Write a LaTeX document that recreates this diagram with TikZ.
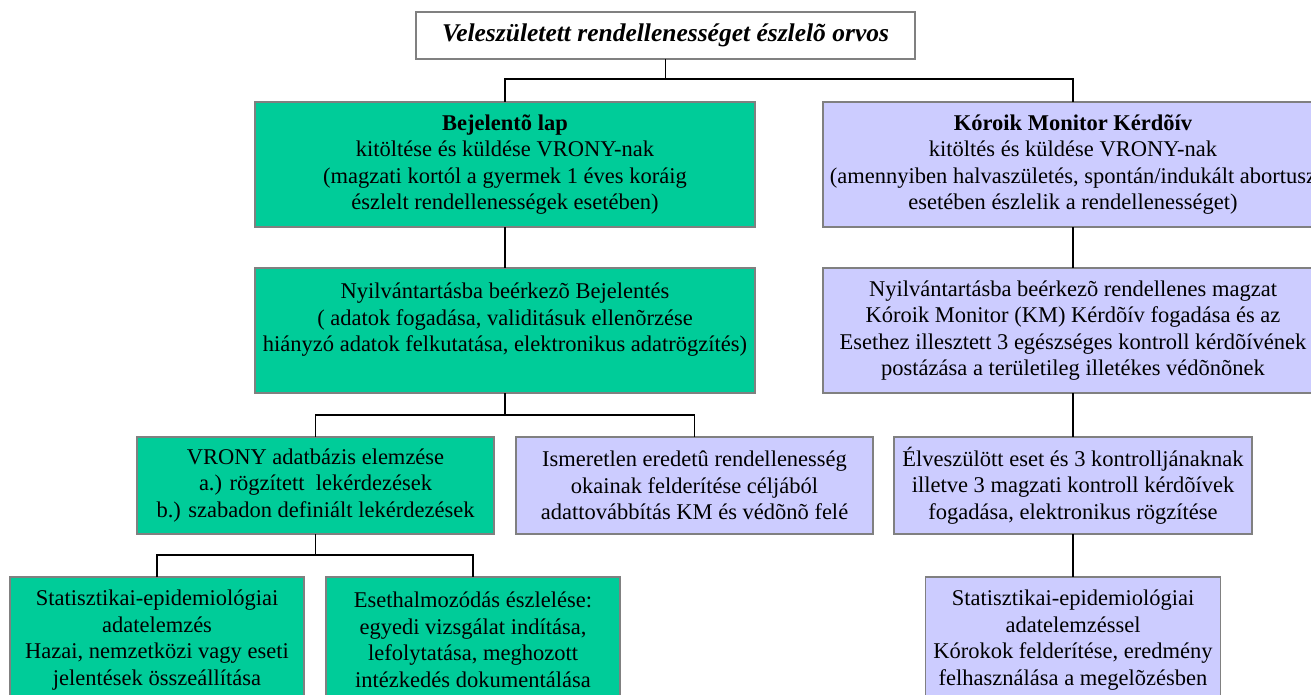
\documentclass[tikz,border=0pt]{standalone}
\usepackage{fontspec}
\setmainfont{Liberation Serif}
\definecolor{boxgreen}{HTML}{00CC99}
\definecolor{boxpurple}{HTML}{CCCCFF}
\definecolor{boxborder}{HTML}{808080}
\begin{document}
\begin{tikzpicture}[x=1pt,y=-1pt,
  box/.style={draw=boxborder, line width=1.5pt, inner sep=0pt, outer sep=0pt, align=center, font=\fontsize{22.5}{26.5}\selectfont},
  gbox/.style={box, fill=boxgreen},
  pbox/.style={box, fill=boxpurple},
  conn/.style={draw=black, line width=1.3pt}]
\useasboundingbox (0,0) rectangle (1311,695);
\clip (0,0) rectangle (1311,695);
% title
\node[box, fill=white, minimum width=499pt, minimum height=47pt, font=\fontsize{25.5}{29}\selectfont\bfseries\itshape] (top) at (665.5,35.5) {Veleszületett rendellenességet észlelõ orvos};
% row 1
\node[gbox, minimum width=500pt, minimum height=125pt] (b1) at (505,164.5)
  {\textbf{Bejelentõ lap}\\kitöltése és küldése VRONY-nak\\(magzati kortól a gyermek 1 éves koráig\\észlelt rendellenességek esetében)};
\node[pbox, minimum width=500pt, minimum height=125pt] (p1) at (1073,164.5)
  {\textbf{Kóroik Monitor Kérdõív}\\kitöltés és küldése VRONY-nak\\\makebox[440pt]{(amennyiben halvaszületés, spontán/indukált abortusz}\\esetében észlelik a rendellenességet)};
% row 2
\node[gbox, minimum width=500pt, minimum height=125pt] (b2) at (505,330.5)
  {Nyilvántartásba beérkezõ Bejelentés\\( adatok fogadása, validitásuk ellenõrzése\\hiányzó adatok felkutatása, elektronikus adatrögzítés)\\\mbox{}};
\node[pbox, minimum width=500pt, minimum height=125pt] (p2) at (1073,330.5)
  {Nyilvántartásba beérkezõ rendellenes magzat\\Kóroik Monitor (KM) Kérdõív fogadása és az\\Esethez illesztett 3 egészséges kontroll kérdõívének\\postázása a területileg illetékes védõnõnek};
% row 3
\node[gbox, minimum width=357pt, minimum height=97pt] (b3) at (315.5,485.5)
  {VRONY adatbázis elemzése\\a.) rögzített\ \ lekérdezések\\b.) szabadon definiált lekérdezések};
\node[pbox, minimum width=357pt, minimum height=97pt] (p3) at (694.5,485.5)
  {Ismeretlen eredetû rendellenesség\\okainak felderítése céljából\\adattovábbítás KM és védõnõ felé};
\node[pbox, minimum width=358pt, minimum height=97pt] (p4) at (1073,485.5)
  {Élveszülött eset és 3 kontrolljánaknak\\illetve 3 magzati kontroll kérdõívek\\fogadása, elektronikus rögzítése};
% row 4
\node[gbox, minimum width=294pt, minimum height=126pt] (s1) at (157,640)
  {Statisztikai-epidemiológiai\\adatelemzés\\Hazai, nemzetközi vagy eseti\\jelentések összeállítása};
\node[gbox, minimum width=294pt, minimum height=126pt] (s2) at (473,640)
  {Esethalmozódás észlelése:\\egyedi vizsgálat indítása,\\lefolytatása, meghozott\\intézkedés dokumentálása};
\node[pbox, minimum width=295pt, minimum height=126pt] (p5) at (1073,640)
  {Statisztikai-epidemiológiai\\adatelemzéssel\\Kórokok felderítése, eredmény\\felhasználása a megelõzésben};
% connectors
\coordinate (j1) at (665.5,79);
\coordinate (j2) at (505,415);
\coordinate (j3) at (315.5,555);
\draw[conn] (top.south) -- (j1);
\draw[conn] (b1.north) |- (j1) -| (p1.north);
\draw[conn] (b1.south) -- (b2.north);
\draw[conn] (p1.south) -- (p2.north);
\draw[conn] (b2.south) -- (j2);
\draw[conn] (b3.north) |- (j2) -| (p3.north);
\draw[conn] (p2.south) -- (p4.north);
\draw[conn] (b3.south) -- (j3);
\draw[conn] (s1.north) |- (j3) -| (s2.north);
\draw[conn] (p4.south) -- (p5.north);
\end{tikzpicture}
\end{document}
